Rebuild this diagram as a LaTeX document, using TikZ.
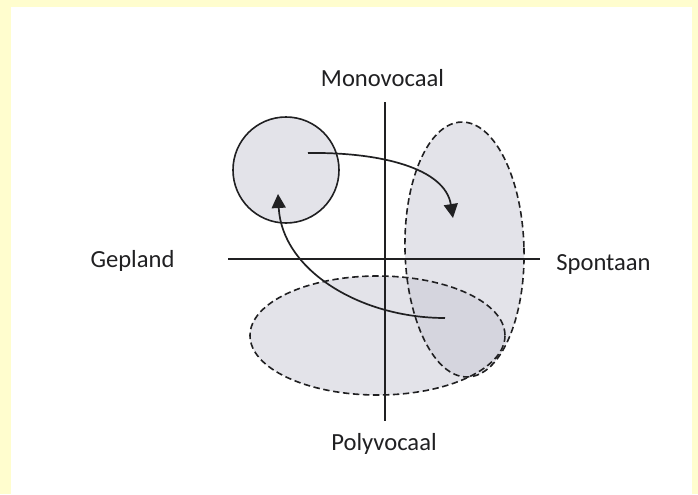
\documentclass[tikz,border=0pt]{standalone}
\usepackage{fontspec}
\setmainfont{Carlito}
\usetikzlibrary{arrows.meta}
\definecolor{PageYellow}{RGB}{255,253,206}
\definecolor{BlobGray}{RGB}{201,200,212}
\definecolor{InkGray}{RGB}{32,32,34}

\begin{document}
\begin{tikzpicture}[x=0.5pt, y=-0.5pt,
    axis/.style={InkGray, line width=0.7pt},
    blob/.style={fill=BlobGray, fill opacity=0.5},
    blobline/.style={InkGray, line width=0.8pt, dash pattern=on 3.2pt off 1.8pt},
    flow/.style={InkGray, line width=0.85pt, -{Triangle[length=7pt,width=7pt]}},
    pole/.style={InkGray, font=\fontsize{12.3}{14}\selectfont, anchor=base}]
        % Kader
        \fill[PageYellow] (0,0) rectangle (698,494);
        \fill[white] (11,7) rectangle (692,494);
        \useasboundingbox (0,0) rectangle (698,494);
        % Vlakken
        \fill[blob] (286,170) circle [radius=53];
        \fill[blob, rotate around={1.4:(464.5,249.5)}] (464.5,249.5) ellipse [x radius=59.5, y radius=127.5];
        \fill[blob] (377.5,335.5) ellipse [x radius=127.5, y radius=59.5];
        % Assen
        \coordinate (north) at (385,102); \coordinate (south) at (385,421);
        \coordinate (west) at (228,259); \coordinate (east) at (540,259);
        \draw[axis] (north) -- (south);
        \draw[axis] (west) -- (east);
        \node[pole] (mono) at (382.5,86) {Monovocaal};
        \node[pole] (poly) at (384,450) {Polyvocaal};
        \node[pole] (gepland) at (132.5,267) {Gepland};
        \node[pole] (spontaan) at (603.5,270.5) {Spontaan};
        % Randen
        \draw[InkGray, line width=0.8pt] (286,170) circle [radius=53];
        \draw[blobline, rotate around={1.4:(464.5,249.5)}] (464.5,249.5) ellipse [x radius=59.5, y radius=127.5];
        \draw[blobline] (377.5,335.5) ellipse [x radius=127.5, y radius=59.5];
        % Pijlen
        \coordinate (fromCircle) at (308,153); \coordinate (toTall) at (453,218);
        \coordinate (fromOverlap) at (445,318); \coordinate (toCircle) at (278,194);
        \draw[flow] (fromCircle) .. controls (380,152) and (445,168) .. (toTall);
        \draw[flow] (fromOverlap) .. controls (360,318) and (282,270) .. (toCircle);
      \end{tikzpicture}
\end{document}
